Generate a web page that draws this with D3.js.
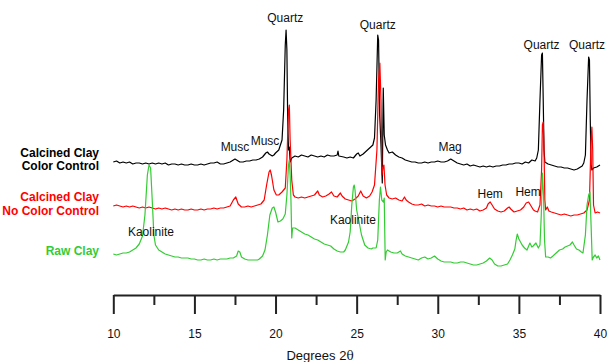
<!DOCTYPE html>
<html>
<head>
<meta charset="utf-8">
<script src="https://cdn.jsdelivr.net/npm/d3@7"></script>
<style>
  html, body { margin: 0; padding: 0; background: #fff; }
  svg { display: block; font-family: "Liberation Sans", Arial, sans-serif; }
</style>
</head>
<body>
<svg id="chart" width="608" height="362"></svg>
<script>
// ---- Data (2θ in degrees, intensity in arbitrary units incl. vertical offset) ----
const colorControl = [[10.0,133],[10.2,134],[10.4,132],[10.6,133],[10.8,132],[11.0,133],[11.2,131],[11.4,132],[11.6,132],[11.8,131],[12.0,132],[12.2,131],[12.4,132],[12.6,131],[12.8,132],[13.0,131],[13.2,132],[13.4,130],[13.6,131],[13.8,131],[14.0,130],[14.2,131],[14.4,130],[14.6,130],[14.8,131],[15.0,130],[15.2,130],[15.4,131],[15.6,130],[15.8,131],[16.0,132],[16.2,132],[16.4,133],[16.6,131],[16.8,131],[17.0,132],[17.2,133],[17.4,135],[17.5,136],[17.6,135],[17.8,133],[18.0,133],[18.2,134],[18.4,134],[18.6,135],[18.8,135],[19.0,136],[19.2,138],[19.4,142],[19.5,143],[19.6,141],[19.8,139],[19.9,140],[20.0,142],[20.2,145],[20.4,155],[20.5,185],[20.6,250],[20.65,265],[20.7,245],[20.75,175],[20.8,145],[20.85,148],[20.9,133],[21.0,137],[21.2,139],[21.4,138],[21.6,140],[21.8,139],[22.0,138],[22.2,140],[22.4,139],[22.6,138],[22.8,139],[23.0,138],[23.2,140],[23.4,139],[23.6,139],[23.8,140],[23.85,144],[23.9,139],[24.2,138],[24.4,137],[24.6,138],[24.8,137],[25.0,141],[25.1,142],[25.2,139],[25.4,141],[25.6,144],[25.8,147],[26.0,150],[26.1,157],[26.2,195],[26.3,260],[26.35,255],[26.42,180],[26.5,150],[26.58,112],[26.64,207],[26.7,160],[26.78,150],[26.9,145],[27.0,142],[27.2,143],[27.4,140],[27.6,138],[27.8,137],[28.0,135],[28.2,134],[28.4,133],[28.6,133],[28.8,132],[29.0,132],[29.2,133],[29.4,132],[29.6,133],[29.8,133],[30.0,134],[30.2,133],[30.4,133],[30.6,134],[30.8,136],[31.0,134],[31.2,132],[31.4,131],[31.6,130],[31.8,131],[32.0,129],[32.2,130],[32.4,129],[32.6,128],[32.8,129],[33.0,128],[33.2,129],[33.4,128],[33.6,129],[33.8,129],[34.0,130],[34.2,130],[34.4,131],[34.6,131],[34.8,132],[35.0,132],[35.2,131],[35.4,133],[35.6,132],[35.8,135],[36.0,134],[36.1,137],[36.2,145],[36.3,195],[36.4,240],[36.45,242],[36.5,195],[36.55,145],[36.6,133],[36.8,131],[37.0,130],[37.2,129],[37.4,128],[37.6,128],[37.8,127],[38.0,127],[38.2,126],[38.4,125],[38.6,126],[38.8,128],[38.9,129],[39.0,132],[39.1,140],[39.2,195],[39.3,238],[39.35,235],[39.4,175],[39.45,130],[39.5,125],[39.6,127],[39.8,128],[40.0,130]];

const noColorControl = [[10.0,89],[10.2,90],[10.4,89],[10.6,88],[10.8,89],[11.0,88],[11.2,89],[11.4,88],[11.6,87],[11.8,88],[12.0,87],[12.2,88],[12.4,87],[12.6,86],[12.8,87],[13.0,86],[13.2,87],[13.4,86],[13.6,85],[13.8,86],[14.0,85],[14.2,86],[14.4,85],[14.6,85],[14.8,86],[15.0,85],[15.2,85],[15.4,86],[15.6,85],[15.8,86],[16.0,86],[16.2,87],[16.4,86],[16.6,87],[16.8,87],[17.0,88],[17.2,89],[17.4,95],[17.55,98],[17.7,91],[17.9,88],[18.1,88],[18.3,89],[18.5,88],[18.7,89],[18.9,90],[19.1,91],[19.3,95],[19.45,110],[19.6,123],[19.67,125],[19.75,120],[19.9,105],[20.05,100],[20.2,100],[20.4,103],[20.6,107],[20.7,135],[20.8,185],[20.85,190],[20.9,155],[21.0,115],[21.1,100],[21.2,98],[21.4,97],[21.6,98],[21.8,97],[22.0,98],[22.2,99],[22.4,100],[22.6,104],[22.7,100],[22.9,98],[23.1,99],[23.3,101],[23.45,103],[23.6,99],[23.8,98],[24.0,102],[24.1,99],[24.3,96],[24.5,95],[24.7,94],[24.9,96],[25.1,99],[25.25,104],[25.4,99],[25.6,97],[25.8,99],[25.95,103],[26.1,110],[26.25,145],[26.35,215],[26.43,232],[26.5,195],[26.56,120],[26.62,127],[26.68,130],[26.75,110],[26.85,100],[27.0,97],[27.2,96],[27.4,97],[27.6,95],[27.8,94],[27.95,98],[28.05,95],[28.2,93],[28.4,91],[28.6,90],[28.8,90],[29.0,91],[29.2,89],[29.4,90],[29.6,89],[29.8,89],[30.0,88],[30.2,89],[30.4,88],[30.6,88],[30.8,88],[31.0,87],[31.2,87],[31.4,86],[31.6,87],[31.8,85],[32.0,86],[32.2,85],[32.4,86],[32.6,84],[32.8,85],[33.0,87],[33.1,91],[33.23,93],[33.35,90],[33.5,86],[33.7,84],[33.9,83],[34.1,84],[34.3,87],[34.4,88],[34.5,86],[34.7,83],[34.9,84],[35.1,85],[35.3,88],[35.45,92],[35.6,93],[35.75,89],[35.9,85],[36.0,84],[36.15,83],[36.3,90],[36.4,125],[36.45,170],[36.5,173],[36.55,145],[36.6,95],[36.65,85],[36.75,88],[36.85,84],[37.0,83],[37.2,82],[37.4,81],[37.6,80],[37.8,81],[38.0,80],[38.2,79],[38.4,80],[38.6,80],[38.8,81],[39.0,82],[39.2,85],[39.35,95],[39.45,155],[39.5,168],[39.55,145],[39.6,90],[39.7,82],[39.85,83],[40.0,82]];

const rawClay = [[10.0,41],[10.2,40],[10.4,41],[10.6,42],[10.8,42],[11.0,43],[11.2,45],[11.4,47],[11.6,51],[11.8,59],[11.95,80],[12.1,120],[12.2,130],[12.3,127],[12.4,95],[12.5,60],[12.6,50],[12.8,45],[13.0,43],[13.2,41],[13.4,40],[13.6,39],[13.8,38],[14.0,38],[14.2,37],[14.4,37],[14.6,37],[14.8,36],[15.0,36],[15.2,35],[15.4,35],[15.6,36],[15.8,35],[16.0,35],[16.2,36],[16.4,35],[16.6,36],[16.8,36],[17.0,36],[17.2,37],[17.4,37],[17.6,39],[17.7,44],[17.8,43],[17.9,38],[18.1,36],[18.3,35],[18.5,35],[18.7,35],[18.9,35],[19.0,36],[19.2,39],[19.35,45],[19.5,60],[19.65,80],[19.8,87],[19.9,88],[20.0,83],[20.15,73],[20.3,74],[20.45,76],[20.6,81],[20.7,100],[20.8,130],[20.85,135],[20.9,120],[20.95,95],[21.0,57],[21.05,67],[21.2,67],[21.4,65],[21.6,63],[21.8,61],[22.0,60],[22.2,58],[22.4,56],[22.6,55],[22.8,53],[23.0,51],[23.2,50],[23.4,49],[23.6,46],[23.8,44],[24.0,43],[24.2,43],[24.3,45],[24.5,53],[24.6,63],[24.7,90],[24.8,108],[24.85,110],[24.9,105],[25.0,85],[25.15,73],[25.3,60],[25.5,50],[25.7,47],[25.9,46],[26.0,47],[26.2,47],[26.3,55],[26.4,95],[26.47,108],[26.55,95],[26.65,93],[26.7,97],[26.76,35],[26.82,43],[26.9,45],[27.1,43],[27.3,42],[27.5,42],[27.6,43],[27.7,44],[27.8,41],[28.0,39],[28.2,38],[28.4,37],[28.6,36],[28.8,35],[29.0,37],[29.2,38],[29.4,36],[29.6,37],[29.8,39],[30.0,36],[30.2,34],[30.4,33],[30.6,33],[30.8,33],[31.0,32],[31.2,32],[31.4,33],[31.6,33],[31.8,32],[32.0,31],[32.2,30],[32.4,30],[32.6,31],[32.8,32],[33.0,34],[33.2,37],[33.35,35],[33.5,31],[33.7,29],[33.9,29],[34.1,30],[34.3,31],[34.45,35],[34.6,40],[34.75,46],[34.83,55],[34.9,61],[35.0,56],[35.2,50],[35.35,47],[35.5,45],[35.68,52],[35.8,48],[35.88,49],[36.05,52],[36.2,47],[36.3,50],[36.38,80],[36.45,122],[36.52,100],[36.58,55],[36.65,38],[36.8,38],[36.95,37],[37.1,39],[37.3,42],[37.5,45],[37.7,46],[37.85,48],[38.0,49],[38.15,50],[38.3,53],[38.4,50],[38.55,46],[38.7,45],[38.85,43],[38.95,42],[39.1,60],[39.2,90],[39.3,100],[39.38,103],[39.45,70],[39.52,35],[39.6,38],[39.7,40],[39.8,37],[39.9,39],[40.0,35]];

const majorTicks = [10, 15, 20, 25, 30, 35, 40];
const minorTicks = [12.5, 17.5, 22.5, 27.5, 32.5, 37.5];

const seriesNames = [["Calcined Clay", "Color Control"], ["Calcined Clay", "No Color Control"], ["Raw Clay"]];
const seriesColors = ["#000000", "#ff0000", "#33cc33"];

// annotations: [label, 2θ position, intensity at label baseline]
const annotations = [
  ["Quartz", 20.6, 273], ["Quartz", 26.3, 266],
  ["Quartz", 36.4, 246], ["Quartz", 39.2, 246],
  ["Musc", 17.5, 144], ["Musc", 19.35, 150],
  ["Mag", 30.76, 144],
  ["Hem", 33.23, 97], ["Hem", 35.57, 99],
  ["Kaolinite", 12.32, 59], ["Kaolinite", 24.77, 71]
];

// ---- Drawing ----
const svg = d3.select("#chart");
const x = d3.scaleLinear().domain([10, 40]).range([113.3, 600]);
const y = d3.scaleLinear().domain([0, 280]).range([295, 15]);

const line = d3.line().x(d => x(d[0])).y(d => y(d[1]));

const allSeries = [colorControl, noColorControl, rawClay];
allSeries.forEach((s, i) => {
  svg.append("path")
    .datum(s)
    .attr("fill", "none")
    .attr("stroke", seriesColors[i])
    .attr("stroke-width", 1.2)
    .attr("stroke-linejoin", "round")
    .attr("d", line);
});

// series labels on the left
const labelBaselines = [[157, 170], [201, 215], [255]];
seriesNames.forEach((lines, i) => {
  lines.forEach((t, j) => {
    svg.append("text")
      .attr("x", 99)
      .attr("y", labelBaselines[i][j])
      .attr("text-anchor", "end")
      .attr("font-size", 12)
      .attr("font-weight", "bold")
      .attr("fill", seriesColors[i])
      .text(t);
  });
});

// peak annotations
svg.append("g").selectAll("text")
  .data(annotations)
  .join("text")
  .attr("x", d => x(d[1]))
  .attr("y", d => y(d[2]))
  .attr("text-anchor", "middle")
  .attr("font-size", 12)
  .attr("fill", "#111")
  .text(d => d[0]);

// x axis
const axisG = svg.append("g").attr("transform", "translate(0,295)");
axisG.call(d3.axisBottom(x).tickValues(majorTicks).tickSize(19).tickSizeOuter(0).tickPadding(15).tickFormat(d3.format("d")));
axisG.select(".domain").attr("stroke", "#222").attr("stroke-width", 2);
axisG.selectAll(".tick line").attr("stroke", "#222").attr("stroke-width", 2);
axisG.selectAll(".tick text").attr("font-size", 12).attr("fill", "#111")
  .attr("font-family", "'Liberation Sans', Arial, sans-serif");

const minorG = svg.append("g").attr("transform", "translate(0,295)");
minorG.call(d3.axisBottom(x).tickValues(minorTicks).tickSize(10).tickSizeOuter(0).tickFormat(""));
minorG.select(".domain").remove();
minorG.selectAll(".tick line").attr("stroke", "#222").attr("stroke-width", 2);

// axis title
const title = svg.append("text")
  .attr("x", 320)
  .attr("y", 360)
  .attr("text-anchor", "middle")
  .attr("font-size", 13)
  .attr("fill", "#111");
title.append("tspan").text("Degrees 2");
title.append("tspan").attr("font-family", "'DejaVu Serif', serif").attr("font-size", 12).text("θ");
</script>
</body>
</html>
